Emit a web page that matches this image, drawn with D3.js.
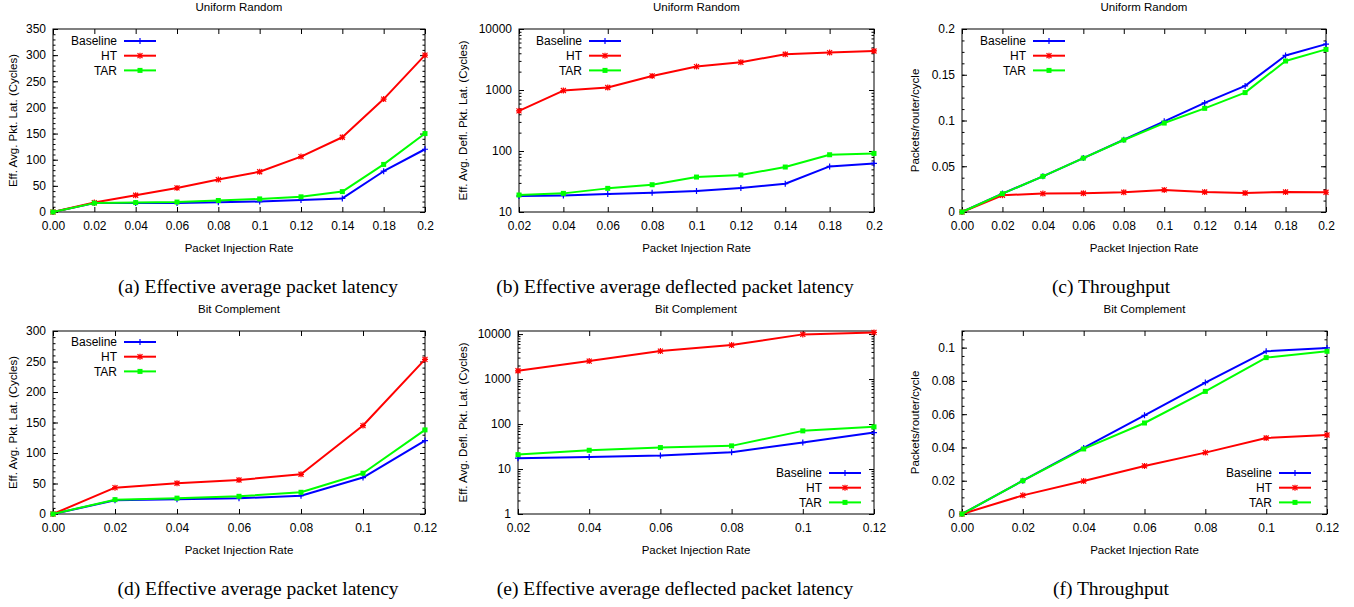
<!DOCTYPE html>
<html>
<head>
<meta charset="utf-8">
<script src="https://cdn.jsdelivr.net/npm/d3@7"></script>
<style>
  body { margin: 0; background: #fff; }
  text { font-family: "Liberation Sans", Arial, sans-serif; }
  .caption { font-family: "Liberation Serif", "Times New Roman", serif; font-size: 19.5px; }
</style>
</head>
<body>
<svg width="1354" height="607"></svg>
<script>
// ---- data ----
var urRates = ["0.00", "0.02", "0.04", "0.06", "0.08", "0.1", "0.12", "0.14", "0.18", "0.2"];
var urDeflRates = ["0.02", "0.04", "0.06", "0.08", "0.1", "0.12", "0.14", "0.18", "0.2"];
var bcRates = ["0.00", "0.02", "0.04", "0.06", "0.08", "0.1", "0.12"];
var bcDeflRates = ["0.02", "0.04", "0.06", "0.08", "0.1", "0.12"];

var seriesNames = ["Baseline", "HT", "TAR"];

// (a) uniform random, effective avg packet latency
var urLatBaseline = [0, 17, 17, 17, 18.5, 20, 23, 26, 78, 120];
var urLatHT = [0, 18, 32, 46, 62, 77, 106, 143, 216, 300];
var urLatTAR = [0, 17, 18, 19, 22, 25, 29, 39, 91, 150];

// (b) uniform random, deflected packet latency (log)
var urDeflBaseline = [18.3, 18.7, 19.7, 20.7, 22.1, 24.7, 29.1, 55.9, 62.6];
var urDeflHT = [455, 980, 1097, 1700, 2420, 2850, 3850, 4100, 4365];
var urDeflTAR = [19, 20.2, 24.4, 28, 37.4, 40.4, 54.6, 86.8, 91.2];

// (c) uniform random, throughput
var urThrBaseline = [0, 0.0201, 0.039, 0.0589, 0.079, 0.0991, 0.1192, 0.1378, 0.1711, 0.1835];
var urThrHT = [0, 0.0183, 0.0201, 0.0205, 0.0216, 0.0241, 0.0219, 0.0208, 0.0219, 0.0216];
var urThrTAR = [0, 0.02, 0.039, 0.0589, 0.0787, 0.0972, 0.1133, 0.1305, 0.165, 0.1777];

// (d) bit complement, effective avg packet latency
var bcLatBaseline = [0, 22.4, 24, 25.7, 30, 59.7, 120.4];
var bcLatHT = [0, 43.2, 50.4, 55.8, 65.1, 145, 253.4];
var bcLatTAR = [0, 23.5, 26, 29, 35.6, 66.8, 137.9];

// (e) bit complement, deflected packet latency (log)
var bcDeflBaseline = [17.4, 18.6, 19.9, 23.6, 38.8, 64.7];
var bcDeflHT = [1527, 2505, 4180, 5690, 9840, 10900];
var bcDeflTAR = [20.9, 26.1, 30, 32.7, 70.5, 86.5];

// (f) bit complement, throughput
var bcThrBaseline = [0, 0.02, 0.0397, 0.0593, 0.079, 0.0978, 0.0998];
var bcThrHT = [0, 0.0112, 0.0198, 0.0289, 0.0369, 0.0457, 0.0475];
var bcThrTAR = [0, 0.02, 0.0391, 0.0547, 0.0737, 0.094, 0.0978];

// tick values
var latTicksUR = [0, 50, 100, 150, 200, 250, 300, 350];
var latTicksBC = [0, 50, 100, 150, 200, 250, 300];
var deflTicksUR = [10, 100, 1000, 10000];
var deflTicksBC = [1, 10, 100, 1000, 10000];
var thrTicksUR = [0, 0.05, 0.1, 0.15, 0.2];
var thrTicksBC = [0, 0.02, 0.04, 0.06, 0.08, 0.1];

var captions = ["(a) Effective average packet latency", "(b) Effective average deflected packet latency", "(c) Throughput",
                "(d) Effective average packet latency", "(e) Effective average deflected packet latency", "(f) Throughput"];

var colors = {Baseline: "#0000ff", HT: "#ff0000", TAR: "#00ff00"};
var markers = {Baseline: "plus", HT: "star", TAR: "square"};

var svg = d3.select("svg");

var latLabel = "Eff. Avg. Pkt. Lat. (Cycles)",
    deflLabel = "Eff. Avg. Defl. Pkt. Lat. (Cycles)",
    thrLabel = "Packets/router/cycle";

// panel layout
var panels = [
  {title: "Uniform Random", cats: urRates, vals: [urLatBaseline, urLatHT, urLatTAR], log: false, dom: [0, 350], ticks: latTicksUR, minor: 10, fmt: d3.format("d"),
   l: 53, r: 425, t: 29, b: 212, ylab: latLabel, ylx: 13, legX: 117, legY: 41, capX: 258, capY: 286},
  {title: "Uniform Random", cats: urDeflRates, vals: [urDeflBaseline, urDeflHT, urDeflTAR], log: true, dom: [10, 10000], ticks: deflTicksUR, fmt: d3.format("d"),
   l: 519, r: 874, t: 29, b: 212, ylab: deflLabel, ylx: 463, legX: 582, legY: 41, capX: 675, capY: 286},
  {title: "Uniform Random", cats: urRates, vals: [urThrBaseline, urThrHT, urThrTAR], log: false, dom: [0, 0.2], ticks: thrTicksUR, minor: 0.0125, fmt: d => String(+d.toFixed(3)),
   l: 962, r: 1326, t: 29, b: 212, ylab: thrLabel, ylx: 915, legX: 1026, legY: 41, capX: 1111, capY: 286},
  {title: "Bit Complement", cats: bcRates, vals: [bcLatBaseline, bcLatHT, bcLatTAR], log: false, dom: [0, 300], ticks: latTicksBC, minor: 10, fmt: d3.format("d"),
   l: 53, r: 425, t: 331, b: 514, ylab: latLabel, ylx: 13, legX: 117, legY: 342, capX: 258, capY: 588},
  {title: "Bit Complement", cats: bcDeflRates, vals: [bcDeflBaseline, bcDeflHT, bcDeflTAR], log: true, dom: [1, 11700], ticks: deflTicksBC, fmt: d3.format("d"),
   l: 518, r: 874, t: 331, b: 514, ylab: deflLabel, ylx: 463, legX: 822, legY: 473, capX: 675, capY: 588},
  {title: "Bit Complement", cats: bcRates, vals: [bcThrBaseline, bcThrHT, bcThrTAR], log: false, dom: [0, 0.11], ticks: thrTicksBC, minor: 0.005, fmt: d => String(+d.toFixed(3)),
   l: 962, r: 1327, t: 331, b: 514, ylab: thrLabel, ylx: 915, legX: 1272, legY: 473, capX: 1111, capY: 588}
];

function drawMarker(g, type, color, cx, cy) {
  if (type === "square") {
    g.append("rect").attr("x", cx - 2.5).attr("y", cy - 2.5).attr("width", 5).attr("height", 5).attr("fill", color);
  } else {
    var p = type === "plus" ? "M-3,0H3M0,-3V3" : "M-3,0H3M0,-3V3M-2.5,-2.5L2.5,2.5M-2.5,2.5L2.5,-2.5";
    g.append("path").attr("d", p).attr("transform", "translate(" + cx + "," + cy + ")")
      .attr("stroke", color).attr("stroke-width", 1.2).attr("fill", "none");
  }
}

function minorTicks(p) {
  var out = [];
  if (p.log) {
    for (var dec = p.dom[0]; dec < p.dom[1]; dec *= 10)
      for (var k = 2; k <= 9; k++) if (dec * k <= p.dom[1]) out.push(dec * k);
  } else {
    var n = Math.round((p.dom[1] - p.dom[0]) / p.minor);
    for (var i = 0; i <= n; i++) out.push(p.dom[0] + i * p.minor);
  }
  return out;
}

panels.forEach(function(p) {
  var g = svg.append("g");
  var x = d3.scalePoint().domain(p.cats).range([p.l, p.r]);
  var y = (p.log ? d3.scaleLog() : d3.scaleLinear()).domain(p.dom).range([p.b, p.t]);

  // minor ticks, left and right
  var mt = minorTicks(p);
  g.append("g").attr("transform", "translate(" + p.l + ",0)")
    .call(d3.axisLeft(y).tickValues(mt).tickSizeInner(-2.5).tickSizeOuter(0).tickFormat(""));
  g.append("g").attr("transform", "translate(" + p.r + ",0)")
    .call(d3.axisRight(y).tickValues(mt).tickSizeInner(-2.5).tickSizeOuter(0).tickFormat(""));

  // major ticks
  g.append("g").attr("class", "yaxis").attr("transform", "translate(" + p.l + ",0)")
    .call(d3.axisLeft(y).tickValues(p.ticks).tickFormat(p.fmt).tickSizeInner(-5).tickSizeOuter(0).tickPadding(7));
  g.append("g").attr("transform", "translate(" + p.r + ",0)")
    .call(d3.axisRight(y).tickValues(p.ticks).tickFormat("").tickSizeInner(-5).tickSizeOuter(0));
  g.append("g").attr("class", "xaxis").attr("transform", "translate(0," + p.b + ")")
    .call(d3.axisBottom(x).tickSizeInner(-5).tickSizeOuter(0).tickPadding(9));
  g.append("g").attr("transform", "translate(0," + p.t + ")")
    .call(d3.axisTop(x).tickFormat("").tickSizeInner(-5).tickSizeOuter(0));

  g.selectAll(".domain").remove();
  g.selectAll(".tick line").attr("stroke", "#000");
  g.selectAll(".yaxis text, .xaxis text").attr("font-size", 12).attr("fill", "#000")
    .attr("font-family", "Liberation Sans, Arial, sans-serif");

  g.append("rect").attr("x", p.l).attr("y", p.t).attr("width", p.r - p.l).attr("height", p.b - p.t)
    .attr("fill", "none").attr("stroke", "#000").attr("stroke-width", 1);

  // titles and labels
  g.append("text").attr("x", (p.l + p.r) / 2).attr("y", p.t - 22).attr("dy", "0.35em")
    .attr("text-anchor", "middle").attr("font-size", 11.5).text(p.title);
  g.append("text").attr("x", (p.l + p.r) / 2).attr("y", p.b + 36).attr("dy", "0.35em")
    .attr("text-anchor", "middle").attr("font-size", 11.5).text("Packet Injection Rate");
  g.append("text").attr("transform", "translate(" + p.ylx + "," + (p.t + p.b) / 2 + ") rotate(-90)")
    .attr("dy", "0.35em").attr("text-anchor", "middle").attr("font-size", 11.5).text(p.ylab);

  // series
  var line = d3.line().x(d => x(d[0])).y(d => y(d[1]));
  seriesNames.forEach(function(name, si) {
    var pts = p.cats.map((c, i) => [c, p.vals[si][i]]);
    g.append("path").datum(pts).attr("d", line).attr("fill", "none")
      .attr("stroke", colors[name]).attr("stroke-width", 2).attr("stroke-linejoin", "round");
    pts.forEach(d => drawMarker(g, markers[name], colors[name], x(d[0]), y(d[1])));
  });

  // legend
  seriesNames.forEach(function(name, i) {
    var ly = p.legY + i * 14.7;
    g.append("text").attr("x", p.legX).attr("y", ly).attr("dy", "0.35em")
      .attr("text-anchor", "end").attr("font-size", 12).text(name);
    g.append("line").attr("x1", p.legX + 7).attr("x2", p.legX + 39).attr("y1", ly).attr("y2", ly)
      .attr("stroke", colors[name]).attr("stroke-width", 2);
    drawMarker(g, markers[name], colors[name], p.legX + 23, ly);
  });

  svg.append("text").attr("class", "caption").attr("x", p.capX).attr("y", p.capY).attr("dy", "0.35em")
    .attr("text-anchor", "middle").text(captions[panels.indexOf(p)]);
});
</script>
</body>
</html>
